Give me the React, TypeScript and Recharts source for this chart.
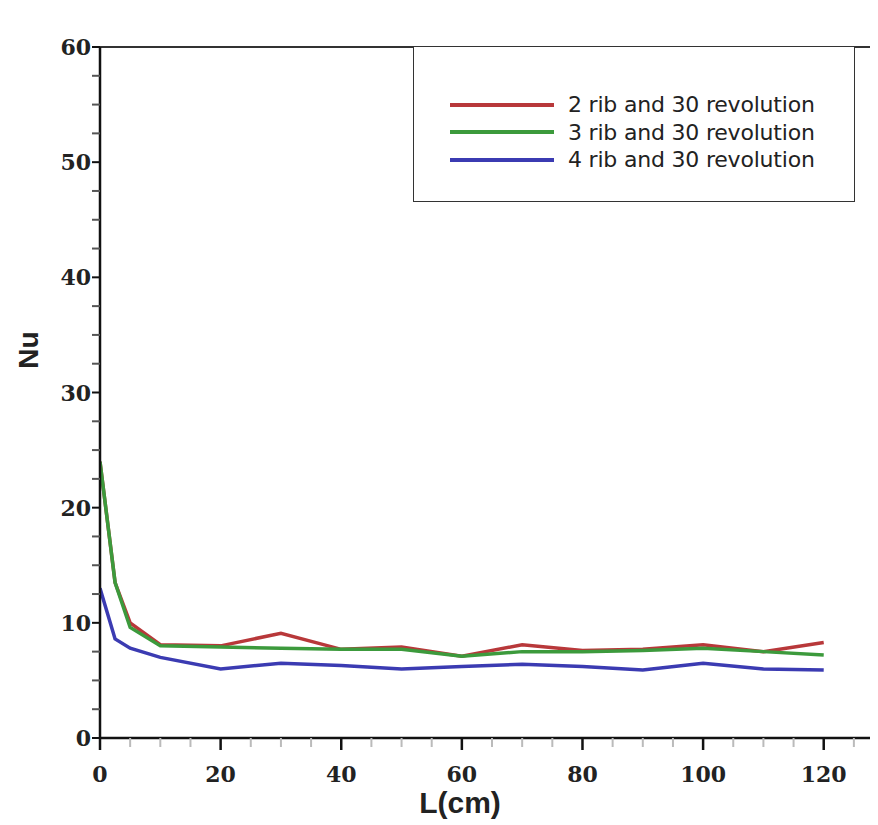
import { Legend, Line, LineChart, ReferenceLine, XAxis, YAxis, Label } from "recharts";

const lengths = [0, 2.5, 5, 10, 20, 30, 40, 50, 60, 70, 80, 90, 100, 110, 120];
const rib2 = [24, 13.5, 10, 8.1, 8.0, 9.1, 7.7, 7.9, 7.1, 8.1, 7.6, 7.7, 8.1, 7.5, 8.3];
const rib3 = [24, 13.5, 9.6, 8.0, 7.9, 7.8, 7.7, 7.7, 7.1, 7.5, 7.5, 7.6, 7.8, 7.5, 7.2];
const rib4 = [13, 8.6, 7.8, 7.0, 6.0, 6.5, 6.3, 6.0, 6.2, 6.4, 6.2, 5.9, 6.5, 6.0, 5.9];

const seriesNames = ["2 rib and 30 revolution", "3 rib and 30 revolution", "4 rib and 30 revolution"];
const seriesColors = ["#b8383a", "#3c9a3c", "#3b3bb2"];

const xTicks = [0, 5, 10, 15, 20, 25, 30, 35, 40, 45, 50, 55, 60, 65, 70, 75, 80, 85, 90, 95, 100, 105, 110, 115, 120, 125];
const yTicks = [0, 2.5, 5, 7.5, 10, 12.5, 15, 17.5, 20, 22.5, 25, 27.5, 30, 32.5, 35, 37.5, 40, 42.5, 45, 47.5, 50, 52.5, 55, 57.5, 60];

const data = lengths.map((L, i) => ({ L, r2: rib2[i], r3: rib3[i], r4: rib4[i] }));

const tickFont = { fontFamily: "'DejaVu Serif', serif", fontWeight: 700, fontSize: 22, fill: "#222" };
const titleFont = { fontFamily: "'Liberation Sans', sans-serif", fontWeight: 700, fill: "#222" };

const XTick = ({ x, y, payload }: any) => {
  const major = payload.value % 20 === 0;
  return (
    <g>
      <line x1={x} x2={x} y1={y} y2={y + (major ? 12 : 9)} stroke={major ? "#111" : "#bbb"} strokeWidth={major ? 2.5 : 2} />
      {major && (
        <text x={x} y={y + 44} textAnchor="middle" {...tickFont}>
          {payload.value}
        </text>
      )}
    </g>
  );
};

const YTick = ({ x, y, payload }: any) => {
  const major = payload.value % 10 === 0;
  return (
    <g>
      <line x1={x - 8} x2={x} y1={y} y2={y} stroke={major ? "#111" : "#555"} strokeWidth={2} />
      {major && (
        <text x={x - 9} y={y + 8} textAnchor="end" {...tickFont}>
          {payload.value}
        </text>
      )}
    </g>
  );
};

const LegendBox = ({ payload }: any) => (
  <div
    style={{
      width: 442,
      height: 156,
      border: "1.5px solid #333",
      background: "#fff",
      boxSizing: "border-box",
      paddingTop: 44,
      fontFamily: "'DejaVu Sans', sans-serif",
      fontSize: 22,
      color: "#222",
    }}
  >
    {(payload || []).map((p: any, i: number) => (
      <div key={i} style={{ display: "flex", alignItems: "center", height: 27.5 }}>
        <div style={{ marginLeft: 36, width: 104, height: 4, background: p.color }} />
        <span style={{ marginLeft: 14, whiteSpace: "nowrap", letterSpacing: -0.2 }}>{p.value}</span>
      </div>
    ))}
  </div>
);

export default function App() {
  return (
    <LineChart width={870} height={817} data={data} margin={{ top: 39, right: 0, bottom: 8, left: 0 }}>
      <XAxis
        type="number"
        dataKey="L"
        domain={[0, 129]}
        ticks={xTicks}
        interval={0}
        tickSize={0}
        tickMargin={0}
        tickLine={false}
        tick={<XTick />}
        axisLine={{ stroke: "#111", strokeWidth: 2.5 }}
        height={79}
        allowDataOverflow
      >
        <Label
          content={() => (
            <text x={452} y={805} textAnchor="middle" fontSize={30} {...titleFont}>
              L(cm)
            </text>
          )}
        />
      </XAxis>
      <YAxis
        type="number"
        domain={[0, 60]}
        ticks={yTicks}
        interval={0}
        tickSize={0}
        tickMargin={0}
        tickLine={false}
        tick={<YTick />}
        axisLine={{ stroke: "#111", strokeWidth: 2.5 }}
        width={92}
      >
        <Label
          content={() => (
            <text
              x={30}
              y={342}
              textAnchor="middle"
              fontSize={28}
              transform="rotate(-90 30 342)"
              {...titleFont}
            >
              Nu
            </text>
          )}
        />
      </YAxis>
      <ReferenceLine y={60} stroke="#333" strokeWidth={2} />
      <Line type="linear" dataKey="r2" name={seriesNames[0]} stroke={seriesColors[0]} strokeWidth={3.5} dot={false} isAnimationActive={false} />
      <Line type="linear" dataKey="r3" name={seriesNames[1]} stroke={seriesColors[1]} strokeWidth={3.5} dot={false} isAnimationActive={false} />
      <Line type="linear" dataKey="r4" name={seriesNames[2]} stroke={seriesColors[2]} strokeWidth={3.5} dot={false} isAnimationActive={false} />
      <Legend
        layout="vertical"
        align="center"
        verticalAlign="middle"
        content={<LegendBox />}
        wrapperStyle={{ position: "absolute", top: 38, left: 405, width: 442, height: 156 }}
      />
    </LineChart>
  );
}
